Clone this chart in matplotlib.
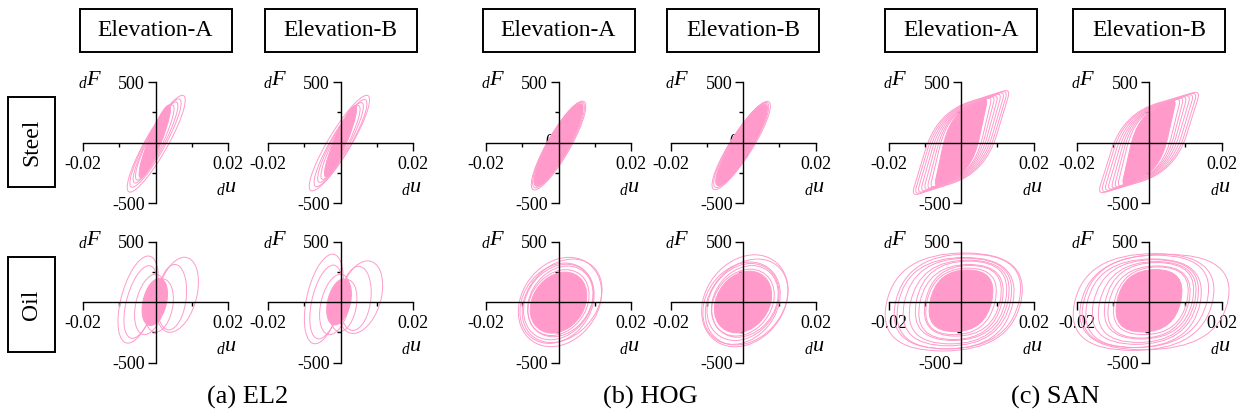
import numpy as np
import matplotlib
matplotlib.use("Agg")
import matplotlib.pyplot as plt
from matplotlib.patches import Circle, PathPatch, Rectangle
from matplotlib.path import Path
from matplotlib.transforms import Affine2D

plt.rcParams['font.family'] = 'Liberation Serif'
plt.rcParams['mathtext.fontset'] = 'custom'
plt.rcParams['mathtext.rm'] = 'Liberation Serif'
plt.rcParams['mathtext.it'] = 'Liberation Serif:italic'
plt.rcParams['axes.unicode_minus'] = False

PINK = '#ff9acb'
W, H = 1247, 417

col_titles = ["Elevation-A", "Elevation-B"] * 3
row_titles = ["Steel", "Oil"]
captions = ["(a) EL2", "(b) HOG", "(c) SAN"]
xtick_vals = [-0.02, 0.02]
xtick_labels = ["-0.02", "0.02"]
ytick_vals = [-500, 500]
ytick_labels = ["-500", "500"]

# loops:
# (centre u, centre F, u at peak force, peak force, u where F crosses centre)
steel_el2_a = [(0.0002, -10, 0.0072, 400, 0.0035), (0.0, -5, 0.0064, 365, 0.0030),
               (0.0, 0, 0.0056, 335, 0.0026), (-0.0002, 0, 0.0048, 310, 0.0023)]
steel_el2_a_core = (-0.0002, 10, 0.0039, 300, 0.0019)
steel_el2_b = [(-0.0003, -5, 0.0075, 395, 0.0036), (0.0, -5, 0.0066, 360, 0.0031),
               (0.0, 0, 0.0057, 330, 0.0027), (0.0, 0, 0.0049, 305, 0.0023)]
steel_el2_b_core = (0.0, 10, 0.0040, 295, 0.0019)

steel_hog_a = [(0.0, -25, 0.0066, 367, 0.0036), (0.0, -20, 0.0063, 355, 0.0034),
               (0.0, -15, 0.0060, 345, 0.0032)]
steel_hog_a_core = (0.0, -20, 0.0059, 340, 0.0031)
steel_hog_b = [(-0.0005, -25, 0.0072, 365, 0.0036), (-0.0005, -20, 0.0068, 352, 0.0034),
               (-0.0004, -15, 0.0064, 340, 0.0032)]
steel_hog_b_core = (-0.0004, -20, 0.0063, 335, 0.0031)

# hardening loops: (top-right u, top-right F, top-left u, top-left F)
steel_san_a = [(0.0137, 445, -0.0067, 250), (0.0130, 435, -0.0062, 245),
               (0.0122, 425, -0.0057, 240), (0.0113, 412, -0.0052, 235),
               (0.0104, 400, -0.0047, 230), (0.0095, 390, -0.0042, 228),
               (0.0086, 380, -0.0038, 225)]
steel_san_a_core = (0.0074, 365, -0.0032, 220)
steel_san_b = [(0.0142, 430, -0.0072, 240), (0.0134, 420, -0.0067, 236),
               (0.0125, 410, -0.0061, 232), (0.0116, 400, -0.0055, 228),
               (0.0106, 390, -0.0050, 224), (0.0097, 380, -0.0045, 220),
               (0.0088, 370, -0.0040, 216)]
steel_san_b_core = (0.0075, 355, -0.0033, 210)

oil_el2_a = [(-0.0048, 20, 0.0028, 360, 0.0048), (-0.0041, 0, 0.0023, 300, 0.0040),
             (0.0060, 60, 0.0020, 310, 0.0055), (0.0045, 40, 0.0008, 270, 0.0040),
             (-0.0015, -20, 0.0015, 250, 0.0040), (0.0010, -30, 0.0010, 220, 0.0038)]
oil_el2_a_core = (-0.0002, 0, 0.0012, 195, 0.0033)
oil_el2_b = [(-0.0046, 25, 0.0024, 370, 0.0048), (-0.0040, 0, 0.0020, 305, 0.0040),
             (0.0055, 40, 0.0020, 300, 0.0058), (0.0042, 30, 0.0008, 265, 0.0042),
             (-0.0015, -20, 0.0015, 250, 0.0040), (0.0008, -30, 0.0010, 215, 0.0036)]
oil_el2_b_core = (-0.0004, 0, 0.0012, 190, 0.0032)

oil_hog_a = [(0.0004, 0, 0.0025, 369, 0.0112), (0.0010, 10, 0.0030, 345, 0.0106),
             (-0.0004, -10, 0.0022, 332, 0.0100), (0.0, 0, 0.0022, 312, 0.0094),
             (0.0005, 5, 0.0020, 292, 0.0088), (0.0, -5, 0.0020, 272, 0.0082)]
oil_hog_a_core = (0.0, -5, 0.0018, 252, 0.0076)
oil_hog_b = [(0.0005, 10, 0.0027, 380, 0.0116), (0.0010, 0, 0.0030, 355, 0.0110),
             (-0.0004, -10, 0.0024, 340, 0.0104), (0.0, 0, 0.0022, 318, 0.0097),
             (0.0005, 5, 0.0020, 296, 0.0090), (0.0, -5, 0.0020, 276, 0.0084)]
oil_hog_b_core = (0.0, 0, 0.0018, 255, 0.0077)

oil_san_a = [(-0.0020, 0, 0.0030, 405, 0.0185), (-0.0010, 5, 0.0030, 392, 0.0170),
             (-0.0015, -10, 0.0025, 378, 0.0158), (-0.0010, 0, 0.0025, 362, 0.0146),
             (-0.0005, 0, 0.0025, 346, 0.0134), (0.0, 10, 0.0022, 328, 0.0123),
             (0.0, 0, 0.0022, 310, 0.0113), (0.0005, 10, 0.0020, 292, 0.0103),
             (0.0, 5, 0.0020, 275, 0.0094)]
oil_san_a_core = (0.0, 10, 0.0018, 255, 0.0085)
oil_san_b = [(0.0015, 0, 0.0030, 395, 0.0202), (-0.0015, 0, 0.0030, 400, 0.0190),
             (-0.0010, 5, 0.0030, 382, 0.0170), (-0.0015, -10, 0.0025, 366, 0.0156),
             (-0.0010, 0, 0.0025, 350, 0.0143), (-0.0005, 0, 0.0025, 334, 0.0131),
             (0.0, 10, 0.0022, 316, 0.0120), (0.0, 0, 0.0022, 298, 0.0110),
             (0.0005, 10, 0.0020, 280, 0.0100)]
oil_san_b_core = (0.0, 10, 0.0018, 258, 0.0088)

# (loop shape, loops, densely traced core)
panels = [
    [("ell", steel_el2_a, steel_el2_a_core), ("ell", steel_el2_b, steel_el2_b_core),
     ("ell", steel_hog_a, steel_hog_a_core), ("ell", steel_hog_b, steel_hog_b_core),
     ("bil", steel_san_a, steel_san_a_core), ("bil", steel_san_b, steel_san_b_core)],
    [("ell", oil_el2_a, oil_el2_a_core), ("ell", oil_el2_b, oil_el2_b_core),
     ("ell", oil_hog_a, oil_hog_a_core), ("ell", oil_hog_b, oil_hog_b_core),
     ("box", oil_san_a, oil_san_a_core), ("box", oil_san_b, oil_san_b_core)],
]

# layout (pixels): y-axis x position per column, x-axis y position per row
col_x = [155.5, 340.5, 558.5, 743, 961, 1149]
row_y = [142.5, 302]

C3, L = Path.CURVE3, Path.LINETO
# unit square: well rounded top-left / bottom-right corners, slightly blunt tips
R, T = 0.9, 0.2
bil_path = Path([(1 - T, 1), (-1 + R, 1), (-1, 1), (-1, 1 - R), (-1, -1 + T), (-1, -1),
                 (-1 + T, -1), (1 - R, -1), (1, -1), (1, -1 + R), (1, 1 - T), (1, 1),
                 (1 - T, 1), (1 - T, 1)],
                [Path.MOVETO, L, C3, C3, L, C3, C3, L, C3, C3, L, C3, C3,
                 Path.CLOSEPOLY])
# unit square with all corners rounded (somewhat boxier than an ellipse)
Q = 1.0
box_path = Path([(1, 0), (1, 1 - Q), (1, 1), (1 - Q, 1), (-1 + Q, 1), (-1, 1),
                 (-1, 1 - Q), (-1, -1 + Q), (-1, -1), (-1 + Q, -1), (1 - Q, -1),
                 (1, -1), (1, -1 + Q), (1, 0)],
                [Path.MOVETO, L, C3, C3, L, C3, C3, L, C3, C3, L, C3, C3,
                 Path.CLOSEPOLY])


def style(filled):
    return dict(fill=filled, fc=PINK, ec=PINK, lw=0.7, clip_on=False, zorder=2)


def loop_patch(ax, kind, loop, filled=False):
    if kind == "bil":
        tru, trf, tlu, tlf = loop
        m = Affine2D(np.array([[(tru - tlu) / 2, (tru + tlu) / 2, 0],
                               [(trf - tlf) / 2, (trf + tlf) / 2, 0], [0, 0, 1.0]]))
        p = PathPatch(bil_path, transform=m + ax.transData, **style(filled))
    else:
        cu, cF, a, c, b = loop
        m = Affine2D(np.array([[a, b, cu], [c, 0.0, cF], [0, 0, 1.0]]))
        if kind == "ell":
            p = Circle((0, 0), 1, transform=m + ax.transData, **style(filled))
        else:
            p = PathPatch(box_path, transform=m + ax.transData, **style(filled))
    ax.add_patch(p)


fig = plt.figure(figsize=(W / 100, H / 100), dpi=100)

for r in range(2):
    for c in range(6):
        x0, y0 = col_x[c], row_y[r]
        ax = fig.add_axes([(x0 - 72.5) / W, 1 - (y0 + 60.5) / H, 145 / W, 121 / H])
        ax.patch.set_visible(False)
        kind, loops, core = panels[r][c]
        loop_patch(ax, kind, core, filled=True)
        for lp in loops:
            loop_patch(ax, kind, lp)
        ax.set_xlim(-0.02, 0.02)
        ax.set_ylim(-500, 500)
        for s in ["top", "right"]:
            ax.spines[s].set_visible(False)
        for s in ["left", "bottom"]:
            ax.spines[s].set_position(("data", 0))
            ax.spines[s].set_linewidth(1.0)
            ax.spines[s].set_zorder(3)
        ax.set_xticks(xtick_vals)
        ax.set_xticklabels(xtick_labels)
        ax.set_xticks([-0.01, 0.01], minor=True)
        ax.set_yticks(ytick_vals)
        ax.set_yticklabels(ytick_labels)
        ax.set_yticks([-250, 250], minor=True)
        ax.tick_params(which="major", length=5.5, width=1.0, labelsize=13, pad=2)
        ax.tick_params(axis="x", which="major", pad=4)
        ax.tick_params(which="minor", length=3, width=1.0)
        if c in (2, 3):
            ax.text(-0.0012, 0, "0", ha="right", va="center", fontsize=13, zorder=1)
            ax.text(0.0003, -95, "0", ha="center", va="center", fontsize=13, zorder=1)
        ax.text(-0.0147, 520, r"${}_{d}F$", ha="right", va="center", fontsize=16)
        ax.text(0.0225, -370, r"${}_{d}u$", ha="right", va="center", fontsize=16)

for c in range(6):
    x0 = col_x[c]
    fig.add_artist(Rectangle(((x0 - 76) / W, 1 - 52 / H), 152 / W, 43 / H,
                             transform=fig.transFigure, fill=False, ec="black", lw=1.4))
    fig.text(x0 / W, 1 - 30.5 / H, col_titles[c], ha="center", va="center", fontsize=17)

for r, (top, bot) in enumerate([(97, 187), (257, 352)]):
    fig.add_artist(Rectangle((8 / W, 1 - bot / H), 47 / W, (bot - top) / H,
                             transform=fig.transFigure, fill=False, ec="black", lw=1.4))
    fig.text(31.5 / W, 1 - (top + bot) / 2 / H, row_titles[r], ha="center", va="center",
             rotation=90, fontsize=17)

for k in range(3):
    xc = (col_x[2 * k] + col_x[2 * k + 1]) / 2
    fig.text(xc / W, 1 - 397 / H, captions[k], ha="center", va="center", fontsize=19)

fig.savefig("out.png", dpi=100)
